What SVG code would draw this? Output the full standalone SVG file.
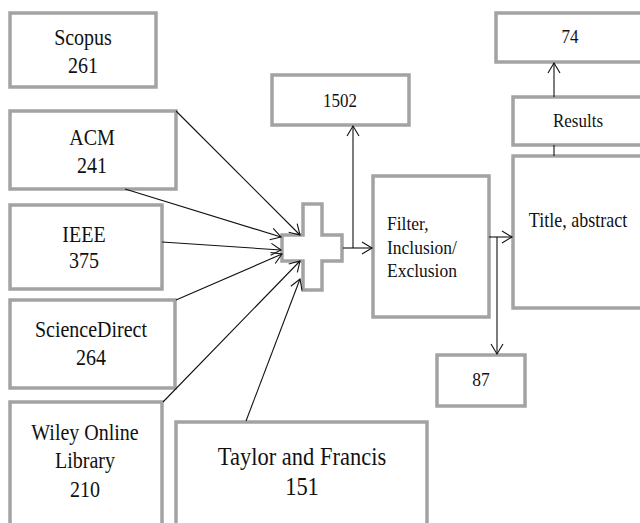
<svg xmlns="http://www.w3.org/2000/svg" width="640" height="523" viewBox="0 0 640 523">
<style>
.box{fill:#fff;stroke:#a3a3a3;stroke-width:3.5}
text{font-family:'Liberation Serif','Times New Roman',Tinos,'DejaVu Serif',serif;fill:#111;text-anchor:middle}
.l{text-anchor:start}
.c{fill:none;stroke:#111;stroke-width:1.1}
</style>
<defs>
<marker id="ah" markerUnits="userSpaceOnUse" markerWidth="14" markerHeight="16" refX="11" refY="7" orient="auto">
<path d="M1,1 L11,7 L1,13" fill="none" stroke="#111" stroke-width="1.1"/>
</marker>
</defs>
<rect width="640" height="523" fill="#fff"/>
<g id="scopus"><rect class="box" x="10" y="13" width="146" height="74"/>
<text font-size="20" transform="translate(83,45) scale(1,1.12)">Scopus</text>
<text font-size="20" transform="translate(83,73) scale(1,1.12)">261</text></g>
<g id="acm"><rect class="box" x="10" y="111" width="166" height="78"/>
<text font-size="20" transform="translate(92,145) scale(1,1.12)">ACM</text>
<text font-size="20" transform="translate(92,173) scale(1,1.12)">241</text></g>
<g id="ieee"><rect class="box" x="10" y="205" width="152" height="84"/>
<text font-size="20" transform="translate(84,242) scale(1,1.12)">IEEE</text>
<text font-size="20" transform="translate(84,268) scale(1,1.12)">375</text></g>
<g id="sciencedirect"><rect class="box" x="10" y="300" width="165" height="88"/>
<text font-size="20" transform="translate(91,337) scale(1,1.12)">ScienceDirect</text>
<text font-size="20" transform="translate(91,365) scale(1,1.12)">264</text></g>
<g id="wiley"><rect class="box" x="10" y="402" width="152" height="130"/>
<text font-size="20" transform="translate(85,440) scale(1,1.12)">Wiley Online</text>
<text font-size="20" transform="translate(85,468) scale(1,1.12)">Library</text>
<text font-size="20" transform="translate(85,497) scale(1,1.12)">210</text></g>
<g id="taylor"><rect class="box" x="176" y="422" width="251" height="110"/>
<text font-size="22.5" transform="translate(302,465) scale(1,1.12)">Taylor and Francis</text>
<text font-size="22.5" transform="translate(302,495) scale(1,1.12)">151</text></g>
<g id="plus"><polygon class="box" points="303,204 322,204 322,235 342,235 342,261 322,261 322,290 303,290 303,261 282,261 282,235 303,235"/></g>
<g id="n1502"><rect class="box" x="272" y="75" width="137" height="50"/>
<text font-size="17" transform="translate(340,107) scale(1,1.12)">1502</text></g>
<g id="filter"><rect class="box" x="373" y="176" width="116" height="141"/>
<text class="l" font-size="17.5" transform="translate(387,230) scale(1,1.12)">Filter,</text>
<text class="l" font-size="17.5" transform="translate(387,254) scale(1,1.12)">Inclusion/</text>
<text class="l" font-size="17.5" transform="translate(387,277) scale(1,1.12)">Exclusion</text></g>
<g id="n87"><rect class="box" x="437" y="355" width="88" height="51"/>
<text font-size="17.5" transform="translate(481,386) scale(1,1.12)">87</text></g>
<g id="title"><rect class="box" x="513" y="156" width="140" height="152"/>
<text font-size="18" transform="translate(578,227) scale(1,1.12)">Title, abstract</text></g>
<g id="results"><rect class="box" x="513" y="97" width="140" height="48"/>
<text font-size="17" transform="translate(578,127) scale(1,1.12)">Results</text></g>
<g id="n74"><rect class="box" x="496" y="13" width="157" height="49"/>
<text font-size="17" transform="translate(570,43) scale(1,1.12)">74</text></g>
<g id="connectors">
<line class="c" x1="176" y1="111" x2="300" y2="235" marker-end="url(#ah)"/>
<line class="c" x1="125" y1="189" x2="281" y2="237" marker-end="url(#ah)"/>
<line class="c" x1="162" y1="242" x2="281" y2="250" marker-end="url(#ah)"/>
<line class="c" x1="176" y1="300" x2="282" y2="254" marker-end="url(#ah)"/>
<line class="c" x1="163" y1="402" x2="300" y2="261" marker-end="url(#ah)"/>
<line class="c" x1="246" y1="421" x2="300" y2="279" marker-end="url(#ah)"/>
<line class="c" x1="343" y1="248" x2="372" y2="248" marker-end="url(#ah)"/>
<line class="c" x1="353" y1="248" x2="353" y2="126" marker-end="url(#ah)"/>
<line class="c" x1="489" y1="237" x2="512" y2="237" marker-end="url(#ah)"/>
<line class="c" x1="497" y1="237" x2="497" y2="354" marker-end="url(#ah)"/>
<line class="c" x1="554" y1="156" x2="554" y2="145"/>
<line class="c" x1="554" y1="97" x2="554" y2="63" marker-end="url(#ah)"/>
</g>
</svg>
